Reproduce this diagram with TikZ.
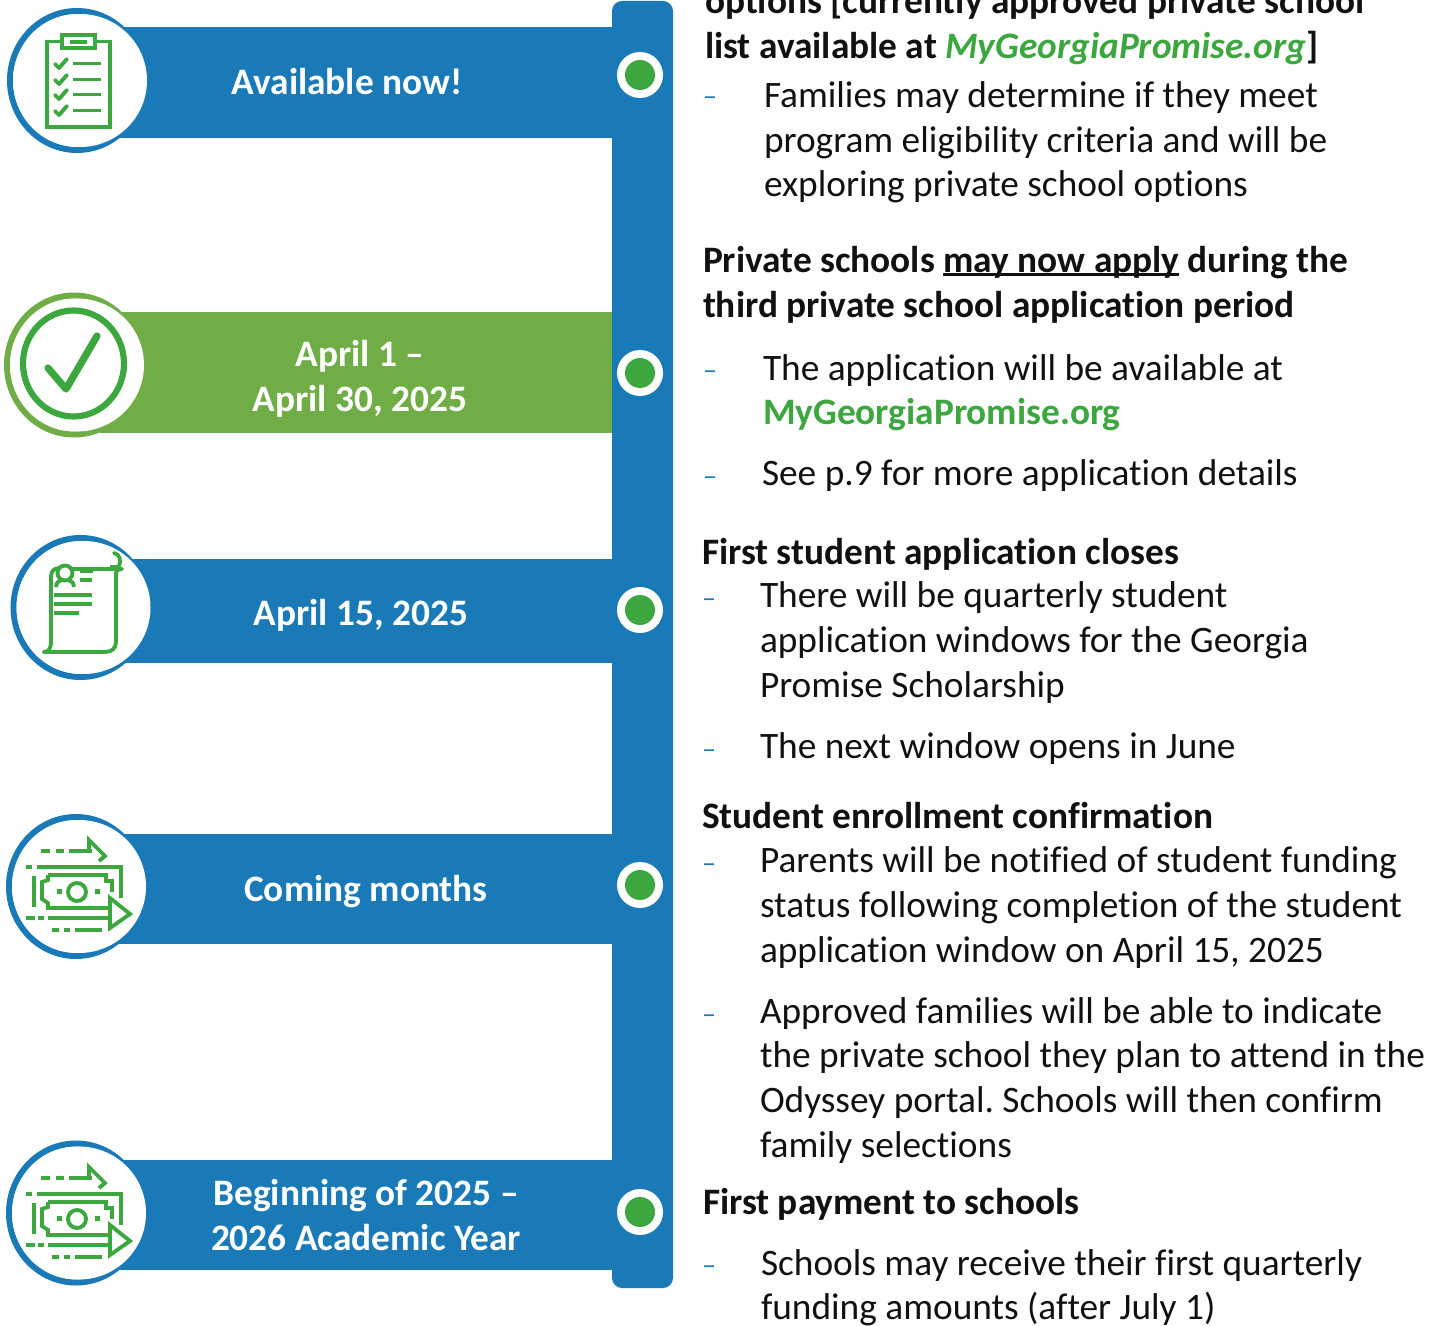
\documentclass[tikz,border=0pt]{standalone}
\usepackage{fontspec}
\setmainfont[Ligatures=NoCommon]{Carlito}
\frenchspacing
\definecolor{bluebar}{HTML}{1A7AB8}
\definecolor{greenbar}{HTML}{70AD47}
\definecolor{iconG}{HTML}{3CA63F}
\definecolor{ink}{HTML}{111111}
\newsavebox{\ulbox}
\newcommand{\ulx}[1]{\sbox{\ulbox}{#1}\leavevmode\rlap{\rule[-0.08em]{\wd\ulbox}{0.06em}}\usebox{\ulbox}}
\tikzset{
 txt/.style={inner sep=0pt,outer sep=0pt,anchor=base west,text=ink,font=\fontsize{28}{32}\selectfont},
 hd/.style={txt,font=\fontsize{28}{32}\selectfont\bfseries},
 dashm/.style={inner sep=0pt,outer sep=0pt,anchor=base west,text=bluebar,font=\fontsize{21}{24}\selectfont},
 lab/.style={inner sep=0pt,outer sep=0pt,anchor=base,text=white,font=\fontsize{28}{32}\selectfont\bfseries},
 ring/.style={draw=#1,line width=4.5pt},
 disc/.style={fill=white},
 ico/.style={draw=iconG,line width=2.9pt,line cap=butt,line join=miter},
 icor/.style={draw=iconG,line width=2.9pt,line cap=round,line join=round},
}
\newcommand{\dotm}[2][]{\fill[white] (640,#2) circle[radius=23];\fill[iconG] (640,#2) circle[radius=15];}
\newcommand{\moneyicon}{%
 \draw[ico] (41,851)--(50,851) (56,851)--(64,851) (69,851)--(92,851);
 \draw[ico] (89,851)--(89,840)--(105,856)--(99,861);
 \draw[ico] (26,867)--(32,867) (37,867)--(121,867)--(121,898);
 \draw[ico] (34,876)--(34,907);
 \draw[ico] (48,875)--(106,875)--(106,881)--(112,881)--(112,892);
 \draw[ico] (110,908)--(48,908)--(48,903)--(42,899)--(42,882)--(48,880)--(48,875);
 \draw[ico] (77,892) circle[radius=9];
 \fill[iconG] (57,889) rectangle (62,894) (95,889) rectangle (100,894);
 \draw[ico] (26,918)--(35,918) (38,918)--(44,918) (48,918)--(110,918);
 \draw[ico] (110,898)--(130,914)--(110,928)--cycle;
 \draw[ico] (52,930)--(59,930) (64,930)--(70,930) (75,930)--(102,930);
}
\begin{document}
\begin{tikzpicture}[x=0.75pt,y=-0.75pt]
\useasboundingbox (0,0) rectangle (1445,1326);
\clip (0,0) rectangle (1445,1326);
\fill[white] (0,0) rectangle (1445,1326);
% rings (partly hidden by the bars)
\draw[ring=bluebar] (77,80.5) ellipse[x radius=67,y radius=69.5];
\draw[ring=greenbar] (74,365) ellipse[x radius=67,y radius=69.5];
\draw[ring=bluebar] (80.5,607.5) ellipse[x radius=67,y radius=69.5];
\draw[ring=bluebar] (76,886.5) ellipse[x radius=67,y radius=69.5];
\draw[ring=bluebar] (76,1213) ellipse[x radius=67,y radius=69.5];
% bars
\fill[bluebar] (110,27) rectangle (613,138);
\fill[greenbar] (100,312) rectangle (613,433);
\fill[bluebar] (110,559) rectangle (613,663);
\fill[bluebar] (110,834) rectangle (613,944);
\fill[bluebar] (110,1160) rectangle (613,1270);
\fill[bluebar,rounded corners=7.5pt] (612,1) rectangle (673,1288);
% white discs
\fill[disc] (80,80.5) ellipse[x radius=67,y radius=66.5];
\fill[disc] (77,365) ellipse[x radius=67,y radius=66.5];
\fill[disc] (83.5,607.5) ellipse[x radius=67,y radius=66.5];
\fill[disc] (79,886.5) ellipse[x radius=67,y radius=66.5];
\fill[disc] (79,1213) ellipse[x radius=67,y radius=66.5];
% dots
\dotm{75}
\dotm{373}
\dotm{610}
\dotm{885}
\dotm{1212}
% clipboard icon
\draw[ico] (47,41.5) rectangle (110,127);
\draw[ico,fill=white] (62,35) rectangle (95,48);
\fill[iconG] (70,40) rectangle (87,44);
\foreach \yy in {64,80,95,111}{
 \draw[icor] (55,\yy)--(59,\yy+4)--(67,\yy-5);
 \draw[ico] (73,\yy-0.5)--(101,\yy-0.5);
}
% check icon
\draw[draw=iconG,line width=4.6pt] (73.5,363.5) ellipse[x radius=50.5,y radius=53];
\draw[draw=iconG,line width=5.4pt,line cap=round,line join=round] (48,368)--(66,389)--(97,336);
% document icon
\draw[icor] (60,568) .. controls (54,568) and (51,571) .. (51,577)--(51,642) .. controls (51,648) and (49,652) .. (44,652);
\draw[icor] (44,652)--(105,652) .. controls (112,652) and (116,648) .. (116,642)--(116,575) .. controls (116,572) and (116,569) .. (122,569)--(70,569);
\draw[icor] (114,553) .. controls (120,554) and (122,561) .. (118,568);
\draw[ico,line width=4pt] (110,568)--(120,568);
\draw[ico,fill=white] (65,573) circle[radius=7.5];
\draw[ico] (56,587) .. controls (56,582) and (60,580) .. (63,580) (67,580) .. controls (70,580) and (74,582) .. (74,587);
\draw[ico] (80,571)--(93,571) (80,580)--(92,580);
\draw[ico] (54,595)--(92,595) (54,604)--(92,604) (54,613)--(79,613);
% money icons
\moneyicon
\begin{scope}[yshift=-245.25pt]\moneyicon\end{scope}
% labels
\node[lab] (l1) at (347,94.5) {Available now!};
\node[lab] (l2a) at (360,366.5) {April 1 –};
\node[lab] (l2b) at (360,411.5) {April 30, 2025};
\node[lab] (l3) at (361,625) {April 15, 2025};
\node[lab] (l4) at (366,901) {Coming months};
\node[lab] (l5a) at (366,1205) {Beginning of 2025 –};
\node[lab] (l5b) at (366,1250) {2026 Academic Year};
% right text
\node[hd] (t1) at (705,14) {options [currently approved private school};
\node[hd] (t2) at (705,59) {list available at \textcolor{iconG}{\itshape MyGeorgiaPromise.org}]};
\node[dashm] (d1) at (703,106) {–};
\node[txt] (t3) at (764,108) {Families may determine if they meet};
\node[txt] (t4) at (764,153) {program eligibility criteria and will be};
\node[txt] (t5) at (764,197) {exploring private school options};
\node[hd] (t6) at (703,272.7) {Private schools \ulx{may now apply} during the};
\node[hd] (t7) at (703,317.5) {third private school application period};
\node[dashm] (d2) at (703,380) {–};
\node[txt] (t8) at (763,381) {The application will be available at};
\node[hd,text=iconG] (t9) at (763,425) {MyGeorgiaPromise.org};
\node[dashm] (d3) at (703,485) {–};
\node[txt] (t10) at (762,485.5) {See p.9 for more application details};
\node[hd] (t11) at (702,564.3) {First student application closes};
\node[dashm] (d4) at (702,607) {–};
\node[txt] (t12) at (760,607.3) {There will be quarterly student};
\node[txt] (t13) at (760,652.3) {application windows for the Georgia};
\node[txt] (t14) at (760,697.3) {Promise Scholarship};
\node[dashm] (d5) at (702,758) {–};
\node[txt] (t15) at (760,758.3) {The next window opens in June};
\node[hd] (t16) at (702,828.3) {Student enrollment confirmation};
\node[dashm] (d6) at (702,872) {–};
\node[txt] (t17) at (760,872.3) {Parents will be notified of student funding};
\node[txt] (t18) at (760,917.3) {status following completion of the student};
\node[txt] (t19) at (760,962.3) {application window on April 15, 2025};
\node[dashm] (d7) at (702,1023) {–};
\node[txt] (t20) at (760,1023.3) {Approved families will be able to indicate};
\node[txt] (t21) at (760,1067.3) {the private school they plan to attend in the};
\node[txt] (t22) at (760,1112.3) {Odyssey portal. Schools will then confirm};
\node[txt] (t23) at (760,1157.3) {family selections};
\node[hd] (t24) at (703,1214.3) {First payment to schools};
\node[dashm] (d8) at (702,1274) {–};
\node[txt] (t25) at (761,1275.3) {Schools may receive their first quarterly};
\node[txt] (t26) at (761,1319.3) {funding amounts (after July 1)};
\end{tikzpicture}
\end{document}
